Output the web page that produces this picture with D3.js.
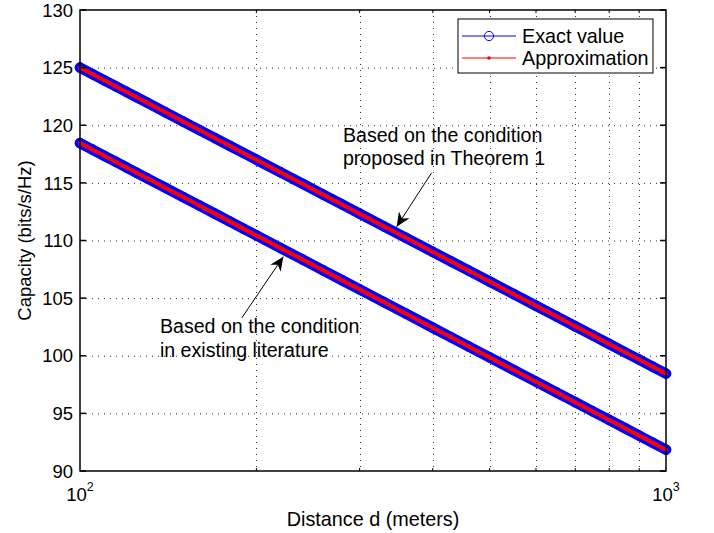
<!DOCTYPE html>
<html lang="en">
<head>
<meta charset="UTF-8">
<title>Capacity vs distance</title>
<script src="https://d3js.org/d3.v7.min.js"></script>
<style>
  body { margin: 0; background: #fff; }
  text { font-family: "Liberation Sans", Arial, sans-serif; fill: #000; }
</style>
</head>
<body>
<svg width="714" height="533"></svg>
<script>
// distance d (meters), shared by all series
let distance = [100, 105, 110, 115, 120, 125, 130, 140, 150, 160, 170, 180, 190, 200,
  220, 240, 260, 280, 300, 330, 360, 400, 430, 460, 500, 550, 600, 650, 700, 750,
  800, 850, 900, 950, 1000];

// upper curves: condition proposed in Theorem 1
let exactTheorem = [125.00, 124.44, 123.90, 123.39, 122.90, 122.43, 121.98, 121.12, 120.32,
  119.58, 118.88, 118.22, 117.60, 117.01, 115.91, 114.91, 113.98, 113.13, 112.33, 111.23,
  110.23, 109.01, 108.18, 107.40, 106.44, 105.34, 104.34, 103.42, 102.56, 101.77, 101.02,
  100.32, 99.67, 99.04, 98.45];
let approxTheorem = [125.00, 124.44, 123.90, 123.39, 122.90, 122.43, 121.98, 121.12, 120.32,
  119.58, 118.88, 118.22, 117.60, 117.01, 115.91, 114.91, 113.98, 113.13, 112.33, 111.23,
  110.23, 109.01, 108.18, 107.40, 106.44, 105.34, 104.34, 103.42, 102.56, 101.77, 101.02,
  100.32, 99.67, 99.04, 98.45];

// lower curves: condition in existing literature
let exactLiterature = [118.45, 117.89, 117.35, 116.84, 116.34, 115.87, 115.42, 114.56, 113.77,
  113.02, 112.32, 111.66, 111.03, 110.44, 109.34, 108.34, 107.41, 106.55, 105.76, 104.66,
  103.65, 102.43, 101.60, 100.82, 99.86, 98.76, 97.75, 96.83, 95.97, 95.17, 94.43,
  93.73, 93.07, 92.44, 91.85];
let approxLiterature = [118.45, 117.89, 117.35, 116.84, 116.34, 115.87, 115.42, 114.56, 113.77,
  113.02, 112.32, 111.66, 111.03, 110.44, 109.34, 108.34, 107.41, 106.55, 105.76, 104.66,
  103.65, 102.43, 101.60, 100.82, 99.86, 98.76, 97.75, 96.83, 95.97, 95.17, 94.43,
  93.73, 93.07, 92.44, 91.85];

let yTicks = [90, 95, 100, 105, 110, 115, 120, 125, 130];
let xMajor = [100, 1000];
let xMinor = [200, 300, 400, 500, 600, 700, 800, 900];
let legendLabels = ['Exact value', 'Approximation'];

// annotations in data coordinates: [d, capacity]
let notes = [
  { lines: ['Based on the condition', 'proposed in Theorem 1'], at: [281, 118.57], from: [398, 115.86], to: [347, 111.2] },
  { lines: ['Based on the condition', 'in existing literature'], at: [136.9, 101.95], from: [188.8, 103.28], to: [222.3, 108.6] }
];

let m = { left: 80, right: 666, top: 10, bottom: 471 };
let x = d3.scaleLog().domain([100, 1000]).range([m.left, m.right]);
let y = d3.scaleLinear().domain([90, 130]).range([m.bottom, m.top]);

let svg = d3.select('svg');
let fs = 18.5;

// grid
let grid = svg.append('g').attr('stroke', '#333').attr('stroke-width', 1).attr('stroke-dasharray', '1,5');
grid.selectAll('.gy').data(yTicks.slice(1, -1)).join('line')
  .attr('x1', m.left).attr('x2', m.right)
  .attr('y1', d => y(d) + 0.5).attr('y2', d => y(d) + 0.5);
grid.selectAll('.gx').data(xMinor).join('line')
  .attr('x1', d => Math.round(x(d)) + 0.5).attr('x2', d => Math.round(x(d)) + 0.5)
  .attr('y1', m.top).attr('y2', m.bottom);

// series
let blue = '#0000ff', red = '#ff0000';
let line = d3.line().x((d, i) => x(distance[i])).y(d => y(d));
let exactSets = [exactTheorem, exactLiterature];
let approxSets = [approxTheorem, approxLiterature];

exactSets.forEach(vals => {
  svg.append('path').attr('d', line(vals)).attr('fill', 'none')
    .attr('stroke', blue).attr('stroke-width', 10.5).attr('stroke-linecap', 'round');
  svg.append('g').selectAll('circle').data(vals).join('circle')
    .attr('cx', (d, i) => x(distance[i])).attr('cy', d => y(d)).attr('r', 4.8)
    .attr('fill', 'none').attr('stroke', blue).attr('stroke-width', 1);
});
approxSets.forEach(vals => {
  svg.append('path').attr('d', line(vals)).attr('fill', 'none')
    .attr('stroke', red).attr('stroke-width', 4);
  svg.append('g').selectAll('circle').data(vals).join('circle')
    .attr('cx', (d, i) => x(distance[i])).attr('cy', d => y(d)).attr('r', 2)
    .attr('fill', red);
});

// axes box and ticks
let ax = svg.append('g').attr('stroke', '#000').attr('stroke-width', 1.5);
ax.append('rect').attr('x', m.left).attr('y', m.top).attr('width', m.right - m.left).attr('height', m.bottom - m.top)
  .attr('fill', 'none');
yTicks.forEach(v => {
  ax.append('line').attr('x1', m.left).attr('x2', m.left + 6).attr('y1', y(v)).attr('y2', y(v));
  ax.append('line').attr('x1', m.right).attr('x2', m.right - 6).attr('y1', y(v)).attr('y2', y(v));
});
xMinor.forEach(v => {
  ax.append('line').attr('x1', x(v)).attr('x2', x(v)).attr('y1', m.bottom).attr('y2', m.bottom - 3).attr('stroke-width', 1);
  ax.append('line').attr('x1', x(v)).attr('x2', x(v)).attr('y1', m.top).attr('y2', m.top + 3).attr('stroke-width', 1);
});

svg.append('g').selectAll('text').data(yTicks).join('text')
  .attr('x', m.left - 7).attr('y', d => y(d)).attr('dy', '0.36em')
  .attr('text-anchor', 'end').style('font-size', fs + 'px').text(d => d);

xMajor.forEach(v => {
  let t = svg.append('text').attr('x', x(v)).attr('y', m.bottom + 30)
    .attr('text-anchor', 'middle').style('font-size', fs + 'px');
  t.append('tspan').text('10');
  t.append('tspan').attr('dy', -10).style('font-size', '12.5px').text(Math.round(Math.log10(v)));
});

svg.append('text').attr('x', 373).attr('y', 526).attr('text-anchor', 'middle')
  .style('font-size', '19.8px').text('Distance d (meters)');
svg.append('text').attr('transform', `translate(31,${(m.top + m.bottom) / 2}) rotate(-90)`)
  .attr('text-anchor', 'middle').style('font-size', fs + 'px').text('Capacity (bits/s/Hz)');

// annotations
svg.append('defs').append('marker').attr('id', 'head').attr('viewBox', '0 0 10 10')
  .attr('refX', 10).attr('refY', 5).attr('markerWidth', 14).attr('markerHeight', 14)
  .attr('markerUnits', 'userSpaceOnUse').attr('orient', 'auto')
  .append('path').attr('d', 'M0,0.5 L10,5 L0,9.5 L3,5 Z').attr('fill', '#000');

notes.forEach(n => {
  svg.append('line').attr('x1', x(n.from[0])).attr('y1', y(n.from[1]))
    .attr('x2', x(n.to[0])).attr('y2', y(n.to[1]))
    .attr('stroke', '#000').attr('stroke-width', 1).attr('marker-end', 'url(#head)');
  svg.append('g').selectAll('text').data(n.lines).join('text')
    .attr('x', x(n.at[0])).attr('y', (d, i) => y(n.at[1]) + i * 23.3)
    .style('font-size', '19.6px').text(d => d);
});

// legend
let lg = svg.append('g');
lg.append('rect').attr('x', 458).attr('y', 19).attr('width', 195).attr('height', 54)
  .attr('fill', '#fff').attr('stroke', '#000').attr('stroke-width', 1);
[blue, red].forEach((c, i) => {
  let ly = 36 + i * 22;
  lg.append('line').attr('x1', 462).attr('x2', 516).attr('y1', ly).attr('y2', ly).attr('stroke', c).attr('stroke-width', 1);
  if (i === 0) lg.append('circle').attr('cx', 489).attr('cy', ly).attr('r', 4.6).attr('fill', 'none').attr('stroke', c);
  else lg.append('circle').attr('cx', 489).attr('cy', ly).attr('r', 1.8).attr('fill', c);
  lg.append('text').attr('x', 522).attr('y', ly).attr('dy', '0.36em').style('font-size', '19.8px').text(legendLabels[i]);
});
</script>
</body>
</html>
